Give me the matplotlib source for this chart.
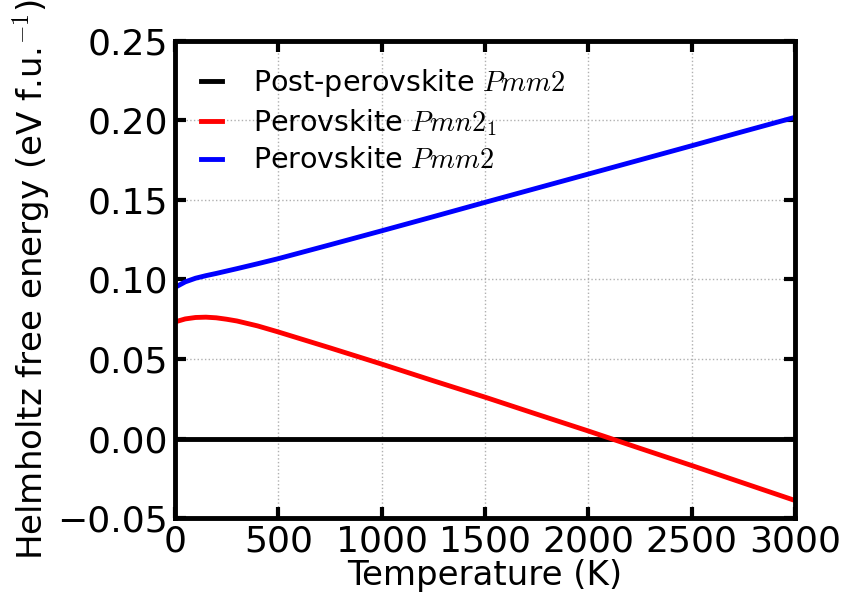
import matplotlib
matplotlib.use("Agg")
import matplotlib.pyplot as plt

plt.rcParams['font.family'] = ['DejaVu Sans']
plt.rcParams['mathtext.fontset'] = 'cm'

temperature = [0, 50, 100, 150, 200, 250, 300, 400, 500, 750, 1000, 1250, 1500,
               1750, 2000, 2250, 2500, 2750, 3000]
post_perovskite_pmm2 = [0.0] * len(temperature)
perovskite_pmn21 = [0.0733, 0.0752, 0.0761, 0.0763, 0.0759, 0.0750, 0.0739,
                    0.0708, 0.0670, 0.0570, 0.0468, 0.0363, 0.0260, 0.0153,
                    0.0047, -0.0062, -0.0170, -0.0280, -0.0390]
perovskite_pmm2 = [0.0950, 0.0985, 0.1008, 0.1024, 0.1038, 0.1053, 0.1068,
                   0.1099, 0.1131, 0.1218, 0.1306, 0.1395, 0.1485, 0.1574,
                   0.1663, 0.1752, 0.1841, 0.1931, 0.2020]

labels = ['Post-perovskite $Pmm2$', 'Perovskite $Pmn2_1$', 'Perovskite $Pmm2$']
colors = ['black', 'red', 'blue']

fig = plt.figure(figsize=(8.45, 6.02), dpi=100)
ax = fig.add_axes([0.207, 0.1395, 0.734, 0.7925])

for y, lab, c in zip([post_perovskite_pmm2, perovskite_pmn21, perovskite_pmm2], labels, colors):
    ax.plot(temperature, y, color=c, lw=3.5, label=lab, solid_joinstyle='round')

ax.set_xlim(0, 3000)
ax.set_ylim(-0.05, 0.25)
ax.set_xticks([0, 500, 1000, 1500, 2000, 2500, 3000])
ax.set_yticks([-0.05, 0.0, 0.05, 0.10, 0.15, 0.20, 0.25])
ax.set_yticklabels(['\u22120.05', '0.00', '0.05', '0.10', '0.15', '0.20', '0.25'])
ax.grid(True, color='#b0b0b0', linestyle=':', linewidth=1)
for s in ax.spines.values():
    s.set_linewidth(3.5)
ax.tick_params(direction='in', length=8, width=3, labelsize=26, top=True, right=True, pad=5)
ax.set_xlabel('Temperature (K)', fontsize=24.5, labelpad=0)
ax.set_ylabel('Helmholtz free energy (eV f.u.$^{-1}$)', fontsize=24.5, labelpad=4)

leg = ax.legend(loc='upper left', frameon=False, fontsize=20.5, handlelength=0.75,
                handletextpad=1.1, labelspacing=0.3, borderaxespad=0.5)

fig.savefig('out.png', dpi=100)
